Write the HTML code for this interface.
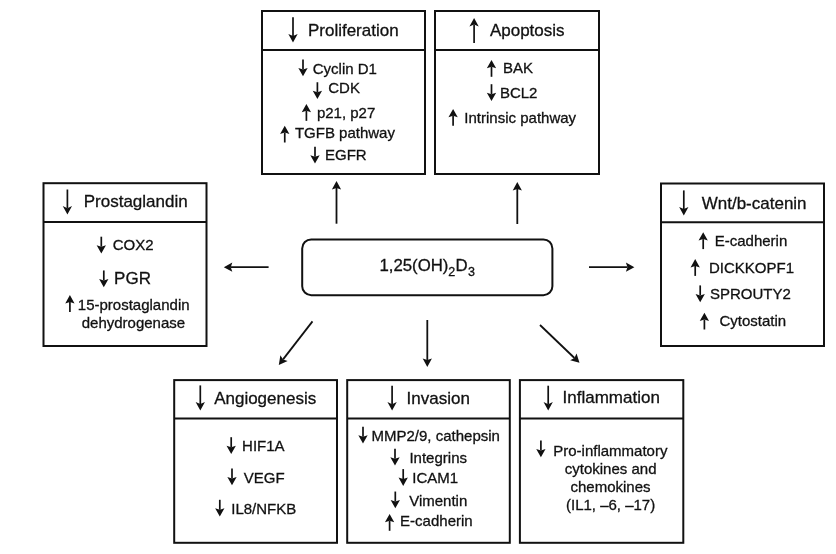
<!DOCTYPE html>
<html><head><meta charset="utf-8"><style>
html,body{margin:0;padding:0;background:#fff;width:836px;height:554px;overflow:hidden}
svg{display:block;will-change:transform;font-family:"Liberation Sans",sans-serif} text{stroke:#111;stroke-width:0.3px}
</style></head><body>
<svg width="836" height="554" viewBox="0 0 836 554" font-family="Liberation Sans, sans-serif" fill="#111"><rect x="262" y="11" width="163" height="163" fill="none" stroke="#111" stroke-width="2"/><line x1="262" y1="50" x2="425" y2="50" stroke="#111" stroke-width="2"/>
<rect x="435" y="11" width="164" height="163" fill="none" stroke="#111" stroke-width="2"/><line x1="435" y1="50" x2="599" y2="50" stroke="#111" stroke-width="2"/>
<rect x="43.5" y="183.2" width="163.0" height="162.8" fill="none" stroke="#111" stroke-width="2"/><line x1="43.5" y1="222" x2="206.5" y2="222" stroke="#111" stroke-width="2"/>
<rect x="661" y="183.5" width="163" height="162.5" fill="none" stroke="#111" stroke-width="2"/><line x1="661" y1="222.2" x2="824" y2="222.2" stroke="#111" stroke-width="2"/>
<rect x="174.2" y="380.1" width="162.8" height="162.69999999999993" fill="none" stroke="#111" stroke-width="2"/><line x1="174.2" y1="418.5" x2="337" y2="418.5" stroke="#111" stroke-width="2"/>
<rect x="347.2" y="380.1" width="162.60000000000002" height="162.69999999999993" fill="none" stroke="#111" stroke-width="2"/><line x1="347.2" y1="418.5" x2="509.8" y2="418.5" stroke="#111" stroke-width="2"/>
<rect x="519.9" y="380.1" width="163.39999999999998" height="162.69999999999993" fill="none" stroke="#111" stroke-width="2"/><line x1="519.9" y1="418.5" x2="683.3" y2="418.5" stroke="#111" stroke-width="2"/>
<line x1="303.00" y1="59.55" x2="303.00" y2="69.54" stroke="#111" stroke-width="1.7"/>
<polygon points="303.00,76.35 298.35,68.05 303.00,69.54 307.65,68.05" fill="#111"/>
<line x1="317.40" y1="82.25" x2="317.40" y2="92.24" stroke="#111" stroke-width="1.7"/>
<polygon points="317.40,99.05 312.75,90.75 317.40,92.24 322.05,90.75" fill="#111"/>
<line x1="306.40" y1="120.85" x2="306.40" y2="110.86" stroke="#111" stroke-width="1.7"/>
<polygon points="306.40,104.05 311.05,112.35 306.40,110.86 301.75,112.35" fill="#111"/>
<line x1="284.75" y1="142.50" x2="284.75" y2="132.51" stroke="#111" stroke-width="1.7"/>
<polygon points="284.75,125.70 289.40,134.00 284.75,132.51 280.10,134.00" fill="#111"/>
<line x1="315.00" y1="146.80" x2="315.00" y2="156.79" stroke="#111" stroke-width="1.7"/>
<polygon points="315.00,163.60 310.35,155.30 315.00,156.79 319.65,155.30" fill="#111"/>
<line x1="491.50" y1="76.80" x2="491.50" y2="66.81" stroke="#111" stroke-width="1.7"/>
<polygon points="491.50,60.00 496.15,68.30 491.50,66.81 486.85,68.30" fill="#111"/>
<line x1="491.50" y1="84.20" x2="491.50" y2="94.19" stroke="#111" stroke-width="1.7"/>
<polygon points="491.50,101.00 486.85,92.70 491.50,94.19 496.15,92.70" fill="#111"/>
<line x1="453.10" y1="125.75" x2="453.10" y2="115.76" stroke="#111" stroke-width="1.7"/>
<polygon points="453.10,108.95 457.75,117.25 453.10,115.76 448.45,117.25" fill="#111"/>
<line x1="101.30" y1="236.70" x2="101.30" y2="246.69" stroke="#111" stroke-width="1.7"/>
<polygon points="101.30,253.50 96.65,245.20 101.30,246.69 105.95,245.20" fill="#111"/>
<line x1="103.80" y1="270.45" x2="103.80" y2="280.44" stroke="#111" stroke-width="1.7"/>
<polygon points="103.80,287.25 99.15,278.95 103.80,280.44 108.45,278.95" fill="#111"/>
<line x1="69.90" y1="311.90" x2="69.90" y2="301.91" stroke="#111" stroke-width="1.7"/>
<polygon points="69.90,295.10 74.55,303.40 69.90,301.91 65.25,303.40" fill="#111"/>
<line x1="703.20" y1="249.10" x2="703.20" y2="239.11" stroke="#111" stroke-width="1.7"/>
<polygon points="703.20,232.30 707.85,240.60 703.20,239.11 698.55,240.60" fill="#111"/>
<line x1="695.20" y1="275.90" x2="695.20" y2="265.91" stroke="#111" stroke-width="1.7"/>
<polygon points="695.20,259.10 699.85,267.40 695.20,265.91 690.55,267.40" fill="#111"/>
<line x1="700.20" y1="285.40" x2="700.20" y2="295.39" stroke="#111" stroke-width="1.7"/>
<polygon points="700.20,302.20 695.55,293.90 700.20,295.39 704.85,293.90" fill="#111"/>
<line x1="704.40" y1="329.50" x2="704.40" y2="319.51" stroke="#111" stroke-width="1.7"/>
<polygon points="704.40,312.70 709.05,321.00 704.40,319.51 699.75,321.00" fill="#111"/>
<line x1="231.20" y1="437.20" x2="231.20" y2="447.19" stroke="#111" stroke-width="1.7"/>
<polygon points="231.20,454.00 226.55,445.70 231.20,447.19 235.85,445.70" fill="#111"/>
<line x1="232.00" y1="468.40" x2="232.00" y2="478.39" stroke="#111" stroke-width="1.7"/>
<polygon points="232.00,485.20 227.35,476.90 232.00,478.39 236.65,476.90" fill="#111"/>
<line x1="219.80" y1="499.80" x2="219.80" y2="509.79" stroke="#111" stroke-width="1.7"/>
<polygon points="219.80,516.60 215.15,508.30 219.80,509.79 224.45,508.30" fill="#111"/>
<line x1="363.00" y1="426.65" x2="363.00" y2="436.64" stroke="#111" stroke-width="1.7"/>
<polygon points="363.00,443.45 358.35,435.15 363.00,436.64 367.65,435.15" fill="#111"/>
<line x1="395.00" y1="448.75" x2="395.00" y2="458.74" stroke="#111" stroke-width="1.7"/>
<polygon points="395.00,465.55 390.35,457.25 395.00,458.74 399.65,457.25" fill="#111"/>
<line x1="403.20" y1="469.10" x2="403.20" y2="479.09" stroke="#111" stroke-width="1.7"/>
<polygon points="403.20,485.90 398.55,477.60 403.20,479.09 407.85,477.60" fill="#111"/>
<line x1="395.30" y1="491.55" x2="395.30" y2="501.54" stroke="#111" stroke-width="1.7"/>
<polygon points="395.30,508.35 390.65,500.05 395.30,501.54 399.95,500.05" fill="#111"/>
<line x1="389.60" y1="530.80" x2="389.60" y2="520.81" stroke="#111" stroke-width="1.7"/>
<polygon points="389.60,514.00 394.25,522.30 389.60,520.81 384.95,522.30" fill="#111"/>
<line x1="540.90" y1="440.55" x2="540.90" y2="450.54" stroke="#111" stroke-width="1.7"/>
<polygon points="540.90,457.35 536.25,449.05 540.90,450.54 545.55,449.05" fill="#111"/>
<line x1="293.00" y1="17.20" x2="293.00" y2="36.05" stroke="#111" stroke-width="1.7"/>
<polygon points="293.00,42.50 288.35,33.90 293.00,36.05 297.65,33.90" fill="#111"/>
<line x1="474.10" y1="42.90" x2="474.10" y2="24.45" stroke="#111" stroke-width="1.7"/>
<polygon points="474.10,18.00 478.75,26.60 474.10,24.45 469.45,26.60" fill="#111"/>
<line x1="67.40" y1="189.50" x2="67.40" y2="208.15" stroke="#111" stroke-width="1.7"/>
<polygon points="67.40,214.60 62.75,206.00 67.40,208.15 72.05,206.00" fill="#111"/>
<line x1="683.80" y1="190.40" x2="683.80" y2="209.05" stroke="#111" stroke-width="1.7"/>
<polygon points="683.80,215.50 679.15,206.90 683.80,209.05 688.45,206.90" fill="#111"/>
<line x1="200.30" y1="385.40" x2="200.30" y2="404.05" stroke="#111" stroke-width="1.7"/>
<polygon points="200.30,410.50 195.65,401.90 200.30,404.05 204.95,401.90" fill="#111"/>
<line x1="392.10" y1="385.70" x2="392.10" y2="404.15" stroke="#111" stroke-width="1.7"/>
<polygon points="392.10,410.60 387.45,402.00 392.10,404.15 396.75,402.00" fill="#111"/>
<line x1="548.20" y1="385.70" x2="548.20" y2="404.15" stroke="#111" stroke-width="1.7"/>
<polygon points="548.20,410.60 543.55,402.00 548.20,404.15 552.85,402.00" fill="#111"/>
<text x="307.95" y="35.55" font-size="17">Proliferation</text>
<text x="312.77" y="74.20" font-size="15.0">Cyclin D1</text>
<text x="328.23" y="93.40" font-size="15.0">CDK</text>
<text x="316.90" y="118.00" font-size="15.0">p21, p27</text>
<text x="294.90" y="138.40" font-size="15.0">TGFB pathway</text>
<text x="325.00" y="160.40" font-size="15.0">EGFR</text>
<text x="489.92" y="35.90" font-size="17">Apoptosis</text>
<text x="503.10" y="72.80" font-size="15.0">BAK</text>
<text x="499.90" y="97.60" font-size="15.0">BCL2</text>
<text x="464.35" y="122.60" font-size="15.0">Intrinsic pathway</text>
<text x="83.72" y="206.90" font-size="17">Prostaglandin</text>
<text x="112.65" y="250.10" font-size="15.0">COX2</text>
<text x="114.12" y="284.30" font-size="17">PGR</text>
<text x="77.82" y="309.80" font-size="15.0">15-prostaglandin</text>
<text x="81.73" y="327.70" font-size="15.0">dehydrogenase</text>
<text x="701.70" y="208.50" font-size="17">Wnt/b-catenin</text>
<text x="714.72" y="246.40" font-size="15.0">E-cadherin</text>
<text x="709.00" y="272.80" font-size="15.0">DICKKOPF1</text>
<text x="710.02" y="298.70" font-size="15.0">SPROUTY2</text>
<text x="719.40" y="325.50" font-size="15.0">Cytostatin</text>
<text x="214.15" y="403.80" font-size="17">Angiogenesis</text>
<text x="242.05" y="451.00" font-size="15.0">HIF1A</text>
<text x="243.73" y="482.80" font-size="15.0">VEGF</text>
<text x="231.25" y="513.80" font-size="15.0">IL8/NFKB</text>
<text x="406.52" y="403.50" font-size="17">Invasion</text>
<text x="371.50" y="441.00" font-size="15.0">MMP2/9, cathepsin</text>
<text x="409.45" y="463.20" font-size="15.0">Integrins</text>
<text x="412.35" y="482.80" font-size="15.0">ICAM1</text>
<text x="409.17" y="505.80" font-size="15.0">Vimentin</text>
<text x="400.12" y="526.10" font-size="15.0">E-cadherin</text>
<text x="562.58" y="403.10" font-size="17">Inflammation</text>
<text x="553.27" y="455.80" font-size="15.0">Pro-inflammatory</text>
<text x="564.78" y="474.20" font-size="15.0">cytokines and</text>
<text x="570.48" y="491.80" font-size="15.0">chemokines</text>
<text x="565.98" y="509.90" font-size="15.0">(IL1, –6, –17)</text>
<rect x="302.2" y="239.4" width="250.2" height="55.8" rx="9" ry="9" fill="none" stroke="#111" stroke-width="2"/>
<text x="379.4" y="270.6" font-size="16.8">1,25(OH)</text>
<text x="448.3" y="275.6" font-size="12.5">2</text>
<text x="455.4" y="270.6" font-size="16.8">D</text>
<text x="467.9" y="275.8" font-size="12.5">3</text>
<line x1="268.60" y1="267.20" x2="230.77" y2="267.20" stroke="#111" stroke-width="1.8"/>
<polygon points="223.80,267.20 232.30,262.60 230.77,267.20 232.30,271.80" fill="#111"/>
<line x1="589.00" y1="267.20" x2="627.43" y2="267.20" stroke="#111" stroke-width="1.8"/>
<polygon points="634.40,267.20 625.90,271.80 627.43,267.20 625.90,262.60" fill="#111"/>
<line x1="336.50" y1="223.70" x2="336.50" y2="187.97" stroke="#111" stroke-width="1.8"/>
<polygon points="336.50,181.00 341.10,189.50 336.50,187.97 331.90,189.50" fill="#111"/>
<line x1="517.30" y1="224.00" x2="517.30" y2="188.97" stroke="#111" stroke-width="1.8"/>
<polygon points="517.30,182.00 521.90,190.50 517.30,188.97 512.70,190.50" fill="#111"/>
<line x1="312.50" y1="321.40" x2="283.07" y2="359.39" stroke="#111" stroke-width="1.8"/>
<polygon points="278.80,364.90 280.37,355.36 283.07,359.39 287.64,361.00" fill="#111"/>
<line x1="427.30" y1="320.00" x2="427.30" y2="359.93" stroke="#111" stroke-width="1.8"/>
<polygon points="427.30,366.90 422.70,358.40 427.30,359.93 431.90,358.40" fill="#111"/>
<line x1="540.00" y1="325.00" x2="574.46" y2="357.98" stroke="#111" stroke-width="1.8"/>
<polygon points="579.50,362.80 570.18,360.25 574.46,357.98 576.54,353.60" fill="#111"/></svg>
</body></html>
